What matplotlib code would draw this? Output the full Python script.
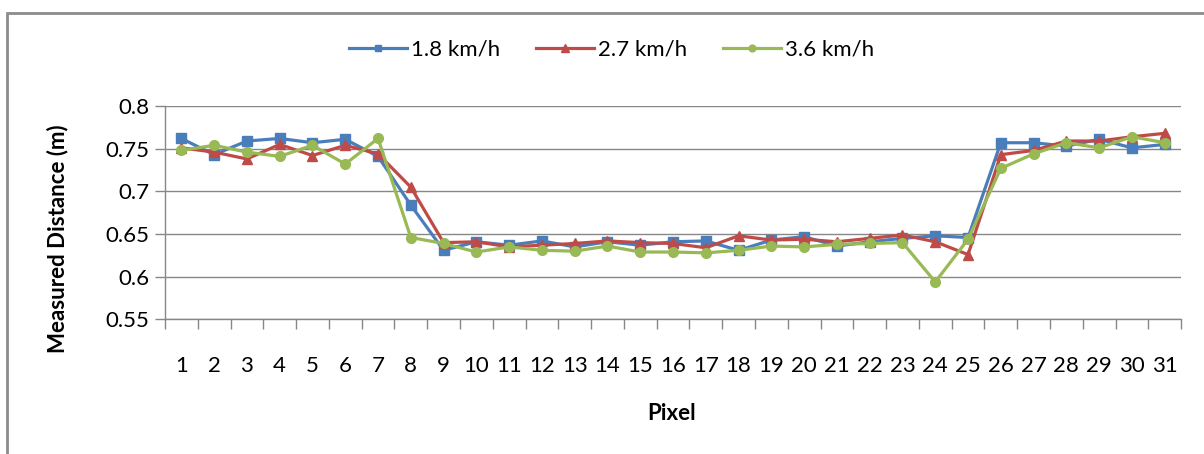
import matplotlib.pyplot as plt
from matplotlib.patches import Rectangle
from matplotlib.ticker import FixedLocator, FuncFormatter

# measured distance per pixel for each walking speed
pixels = list(range(1, 32))
dist_18 = [0.762, 0.743, 0.759, 0.762, 0.757, 0.761, 0.741, 0.684, 0.631, 0.641,
           0.637, 0.642, 0.635, 0.641, 0.637, 0.641, 0.642, 0.631, 0.643, 0.647,
           0.636, 0.641, 0.645, 0.648, 0.646, 0.757, 0.757, 0.753, 0.761, 0.751,
           0.755]
dist_27 = [0.751, 0.746, 0.738, 0.755, 0.742, 0.754, 0.744, 0.705, 0.640, 0.641,
           0.635, 0.637, 0.639, 0.642, 0.640, 0.639, 0.634, 0.648, 0.643, 0.644,
           0.641, 0.645, 0.649, 0.641, 0.626, 0.743, 0.748, 0.759, 0.759, 0.764,
           0.768]
dist_36 = [0.748, 0.754, 0.746, 0.741, 0.754, 0.732, 0.762, 0.646, 0.639, 0.629,
           0.635, 0.631, 0.630, 0.636, 0.629, 0.629, 0.628, 0.631, 0.636, 0.635,
           0.638, 0.639, 0.640, 0.594, 0.644, 0.727, 0.744, 0.757, 0.751, 0.764,
           0.757]
speed_labels = ["1.8 km/h", "2.7 km/h", "3.6 km/h"]
y_ticks = [0.55, 0.6, 0.65, 0.7, 0.75, 0.8]

plt.rcParams['font.family'] = ['Lato', 'DejaVu Sans']

fig = plt.figure(figsize=(12.04, 4.54), dpi=100)
ax = fig.add_axes([0.137, 0.2963, 0.844, 0.4702])

# outer chart border (runs off the right and bottom edges)
fig.patches.append(Rectangle((7 / 1204, -0.1), 1.2, 1 - 13 / 454 + 0.1,
                             transform=fig.transFigure, fill=False,
                             edgecolor='#8c8c8c', linewidth=2))

series = [
    (dist_18, '#4A7EBB', 's', 7),
    (dist_27, '#BE4B48', '^', 7.5),
    (dist_36, '#98B954', 'o', 7),
]
for (vals, col, mk, ms), lab in zip(series, speed_labels):
    ax.plot(pixels, vals, color=col, marker=mk, markersize=ms, linewidth=2.3,
            label=lab)

ax.set_xlim(0.5, 31.5)
ax.set_ylim(0.55, 0.8)
ax.yaxis.set_major_locator(FixedLocator(y_ticks))
ax.yaxis.set_major_formatter(FuncFormatter(lambda v, pos: f"{v:g}"))
ax.grid(axis='y', color='#878787', linewidth=1)
ax.set_axisbelow(True)

# tick marks between categories, labels at the category centres
ax.xaxis.set_major_locator(FixedLocator([x + 0.5 for x in range(0, 32)]))
ax.xaxis.set_minor_locator(FixedLocator(pixels))
ax.xaxis.set_major_formatter(plt.NullFormatter())
ax.set_xticklabels([str(p) for p in pixels], minor=True)
ax.tick_params(axis='x', which='major', length=7, color='#878787', width=1)
ax.tick_params(axis='x', which='minor', length=0, pad=26, labelsize=16)
ax.tick_params(axis='y', length=7, color='#878787', width=1, pad=4,
               labelsize=16)

for side in ['top', 'right']:
    ax.spines[side].set_visible(False)
for side in ['left', 'bottom']:
    ax.spines[side].set_color('#878787')
    ax.spines[side].set_linewidth(1)

fig.text(58 / 1204, 1 - 239 / 454, 'Measured Distance (m)', rotation=90,
         ha='center', va='center', fontsize=16, fontweight='bold')
fig.text(672 / 1204, 1 - 413 / 454, 'Pixel', ha='center', va='center',
         fontsize=16, fontweight='bold')

fig.legend(loc='center', bbox_to_anchor=(0.508, 1 - 50 / 454), ncol=3,
           frameon=False, fontsize=16, handlelength=2.6, handletextpad=0.2,
           columnspacing=1.6, markerscale=0.7)

fig.savefig('out.png', dpi=100)
